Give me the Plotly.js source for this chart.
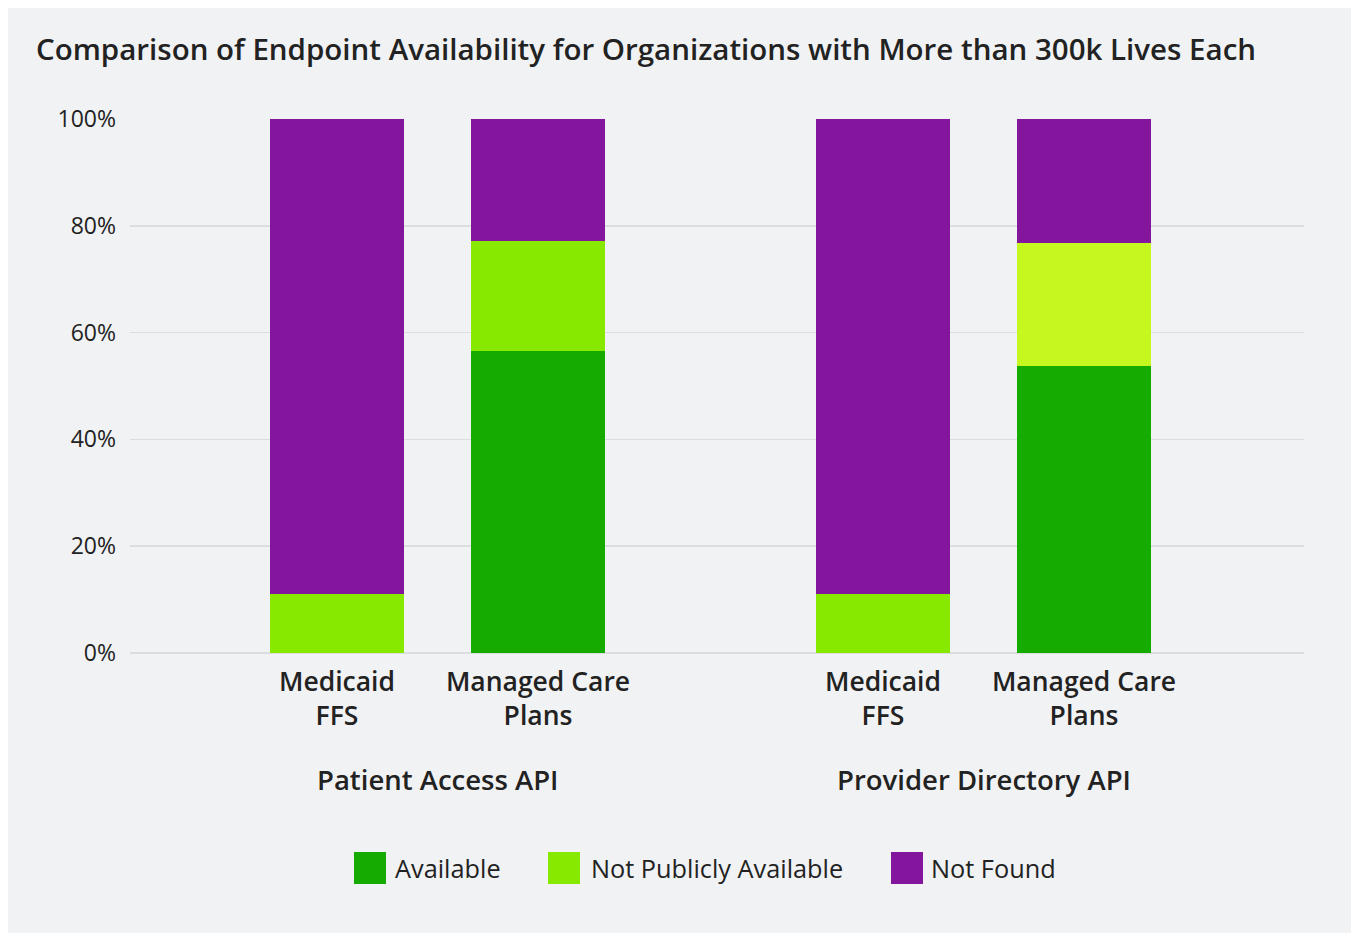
<!DOCTYPE html>
<html>
<head>
<meta charset="utf-8">
<script src="https://cdn.plot.ly/plotly-3.0.1.min.js"></script>
<style>
  html, body { margin: 0; padding: 0; background: #ffffff; }
  #chart { position: absolute; left: 8px; top: 8px; width: 1343px; height: 925px; }
</style>
</head>
<body>
<div id="chart"></div>
<script>
// ---- data ----
const groups = ["Patient Access API", "Provider Directory API"];
const categories = ["Medicaid<br>FFS", "Managed Care<br>Plans"];
const seriesNames = ["Available", "Not Publicly Available", "Not Found"];
// values per bar, order: [PA Medicaid FFS, PA Managed Care, PD Medicaid FFS, PD Managed Care]
const available = [0, 56.5, 0, 53.7];
const notPubliclyAvailable = [11, 20.7, 11, 23.1];
const notFound = [89, 22.8, 89, 23.2];
const yTickVals = [0, 20, 40, 60, 80, 100];
const yTickText = ["0%", "20%", "40%", "60%", "80%", "100%"];

// ---- styles ----
const cAvail = "#16ab00";
const cNPA = "#87e800";
const cNPA2 = "#c6f71e";
const cNF = "#83169d";
const textColor = "#222222";
const FONT = "Open Sans, sans-serif";

// positions computed from group/category indices
const groupGap = 2.73;
const itemGap = 1.005;
const xPos = [];
const xText = [];
groups.forEach((g, gi) => categories.forEach((c, ci) => { xPos.push(gi * groupGap + ci * itemGap); xText.push(c); }));

const barWidth = 0.67;
const traces = [
  { type: "bar", name: seriesNames[0], x: xPos, y: available, width: barWidth,
    marker: { color: cAvail }, hoverinfo: "skip" },
  { type: "bar", name: seriesNames[1], x: xPos, y: notPubliclyAvailable, width: barWidth,
    marker: { color: [cNPA, cNPA, cNPA, cNPA2] }, hoverinfo: "skip" },
  { type: "bar", name: seriesNames[2], x: xPos, y: notFound, width: barWidth,
    marker: { color: cNF }, hoverinfo: "skip" }
];

// layout geometry (pixels inside the chart div)
const W = 1343, H = 925;
const mL = 122, mR = 47, mT = 111, mB = 280;
const plotW = W - mL - mR, plotH = H - mT - mB;
const pxX = px => (px - 8 - mL) / plotW;           // page px -> paper x
const pxY = py => (H - mB - (py - 8)) / plotH;      // page py -> paper y

const annotations = [];
groups.forEach((g, gi) => {
  annotations.push({
    text: g, xref: "x", yref: "paper",
    x: gi * groupGap + (categories.length - 1) * itemGap / 2, y: pxY(779),
    xanchor: "center", yanchor: "middle", showarrow: false,
    font: { family: FONT, size: 27.5, color: textColor, weight: 600 }
  });
});

// custom legend
const legendColors = [cAvail, cNPA, cNF];
const legendSwatchX = [354, 548, 891];
const legendTextX = [393, 589, 929];
const legendY = 868;
const shapes = [];
seriesNames.forEach((n, i) => {
  shapes.push({
    type: "rect", xref: "paper", yref: "paper",
    xsizemode: "pixel", ysizemode: "pixel",
    xanchor: pxX(legendSwatchX[i]), yanchor: pxY(legendY),
    x0: 0, x1: 32, y0: -16, y1: 16,
    fillcolor: legendColors[i], line: { width: 0 }
  });
  annotations.push({
    text: n, xref: "paper", yref: "paper",
    x: pxX(legendTextX[i]), y: pxY(legendY),
    xanchor: "left", yanchor: "middle", showarrow: false,
    font: { family: FONT, size: 25.3, color: textColor }
  });
});

const layout = {
  width: W, height: H,
  paper_bgcolor: "#f1f2f4", plot_bgcolor: "#f1f2f4",
  margin: { l: mL, r: mR, t: mT, b: mB, pad: 0 },
  barmode: "stack",
  bargap: 0,
  showlegend: false,
  title: {
    text: "Comparison of Endpoint Availability for Organizations with More than 300k Lives Each",
    xref: "container", yref: "container",
    x: 28 / W, xanchor: "left",
    y: 1 - 42 / H, yanchor: "middle",
    font: { family: FONT, size: 29.5, color: textColor, weight: 600 }
  },
  xaxis: {
    range: [-1.035, 4.835],
    tickmode: "array", tickvals: xPos, ticktext: xText,
    showgrid: false, zeroline: false, showline: false, ticks: "",
    ticklabelstandoff: 10,
    tickfont: { family: FONT, size: 26.5, color: textColor, weight: 600 },
    fixedrange: true
  },
  yaxis: {
    range: [0, 100],
    tickmode: "array", tickvals: yTickVals, ticktext: yTickText,
    showgrid: true, gridcolor: "#dcdde1", gridwidth: 1.5,
    zeroline: true, zerolinecolor: "#dcdde1", zerolinewidth: 1.5,
    showline: false, ticks: "", ticklabelstandoff: 13,
    tickfont: { family: FONT, size: 23, color: textColor },
    fixedrange: true
  },
  shapes: shapes,
  annotations: annotations
};

Plotly.newPlot("chart", traces, layout, { displayModeBar: false, staticPlot: true });
</script>
</body>
</html>
